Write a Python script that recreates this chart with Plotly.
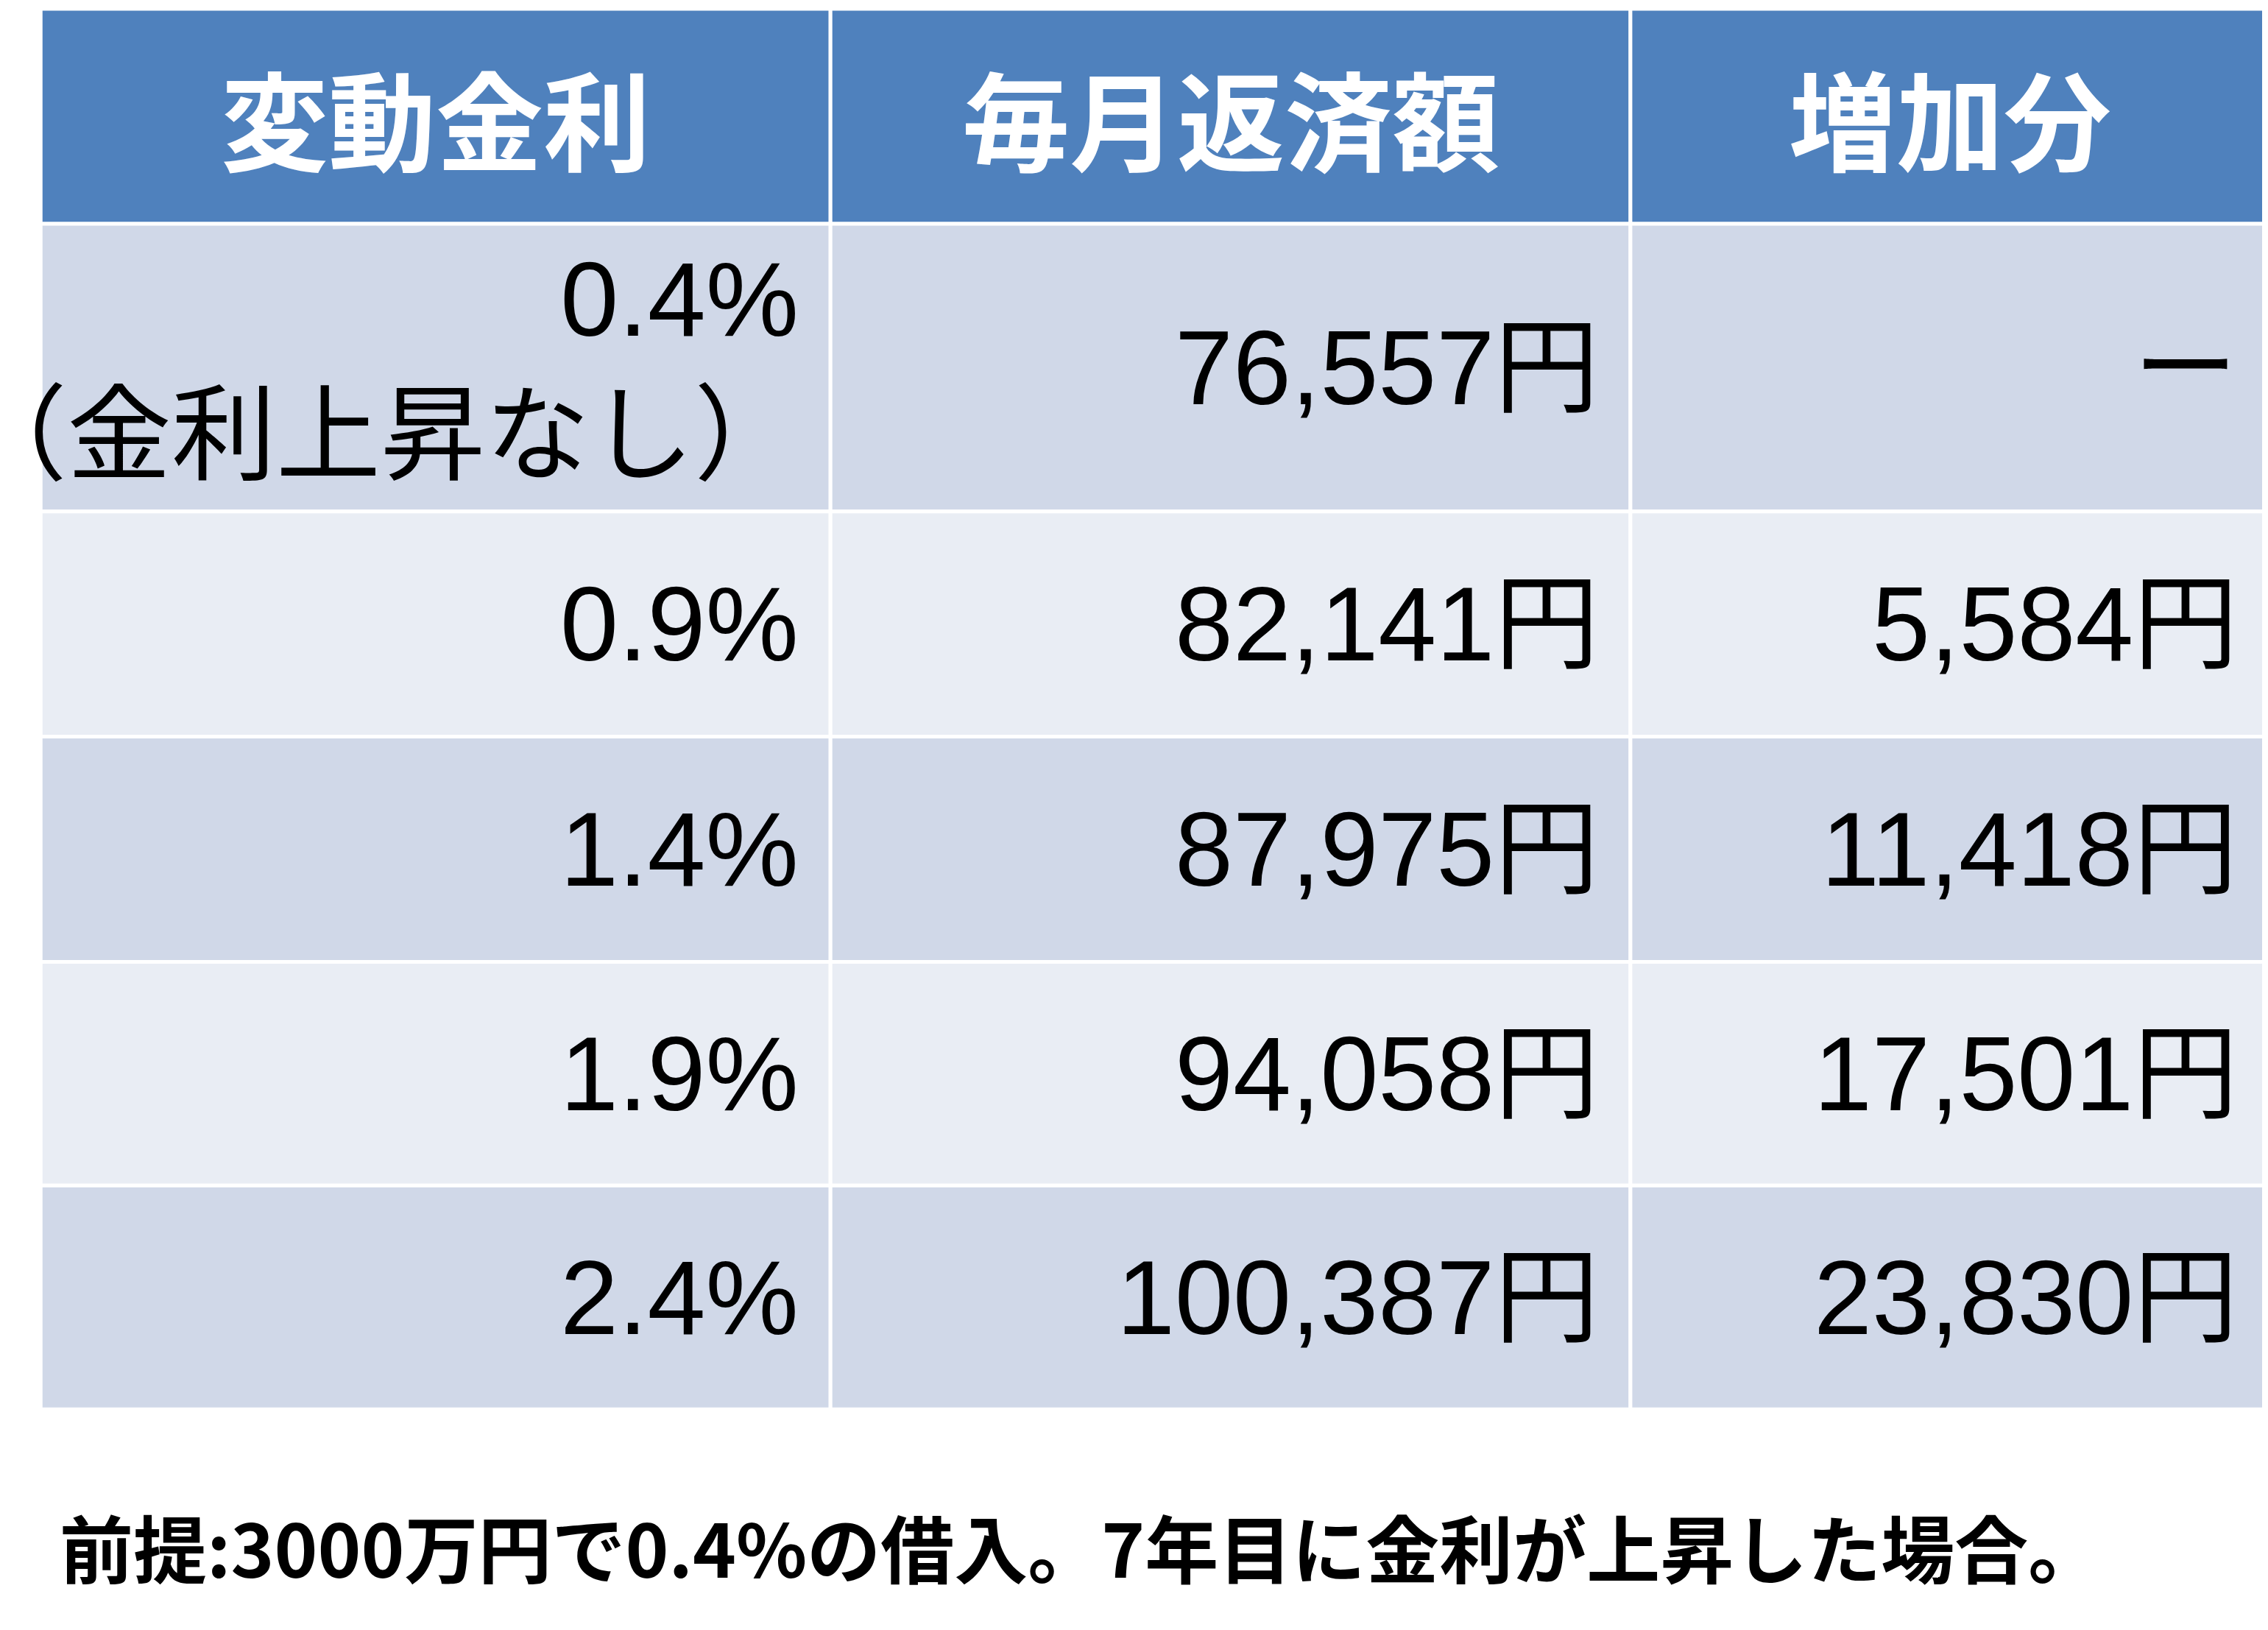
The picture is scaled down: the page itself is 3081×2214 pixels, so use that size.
import plotly.graph_objects as go

headers = ["変動金利", "毎月返済額", "増加分"]
rates = ["0.4%<br>（金利上昇なし）", "0.9%", "1.4%", "1.9%", "2.4%"]
payments = ["76,557円", "82,141円", "87,975円", "94,058円", "100,387円"]
increases = ["ー", "5,584円", "11,418円", "17,501円", "23,830円"]
note = "前提:3000万円で0.4%の借入。7年目に金利が上昇した場合。"

W, H = 3081, 2214
RW, RH = 1565, 1122  # reference display units
FONT = "Liberation Sans, Arial, Noto Sans CJK JP"
row_fill = ["#D0D8E8", "#E9EDF4"]

col_edges = [24, 569, 1121, 1562]
row_edges = [2, 150, 348, 503, 658, 812, 966]

def fx(v): return v / RW
def fy(v): return 1 - v / RH

fig = go.Figure()
columns = [rates, payments, increases]
n_rows = len(rates)

for r in range(n_rows + 1):
    y0, y1 = row_edges[r], row_edges[r + 1]
    for c in range(3):
        x0, x1 = col_edges[c], col_edges[c + 1]
        fill = "#4F81BD" if r == 0 else row_fill[(r - 1) % 2]
        fig.add_shape(type="rect", xref="paper", yref="paper",
                      x0=fx(x0), x1=fx(x1), y0=fy(y1), y1=fy(y0),
                      fillcolor=fill, line=dict(color="white", width=5), layer="below")
        ym = fy((y0 + y1) / 2)
        if r == 0:
            fig.add_annotation(text=f"<b>{headers[c]}</b>", x=fx((x0 + x1) / 2), y=ym,
                               xref="paper", yref="paper", xanchor="center", yanchor="middle",
                               showarrow=False,
                               font=dict(family="Noto Sans CJK JP", size=146, color="white"))
        else:
            fig.add_annotation(text=columns[c][r - 1], x=fx(x1 - 21), y=ym,
                               xref="paper", yref="paper", xanchor="right", yanchor="middle",
                               align="right", showarrow=False,
                               font=dict(family=FONT, size=142, color="black"))

fig.add_annotation(
    text=f"<b>{note}</b>", x=fx(36), y=fy(1060), xref="paper", yref="paper",
    xanchor="left", yanchor="middle", showarrow=False,
    font=dict(family="Noto Sans CJK JP", size=100, color="black"),
)
fig.update_layout(width=W, height=H, margin=dict(l=0, r=0, t=0, b=0),
                  paper_bgcolor="white", plot_bgcolor="white",
                  xaxis=dict(visible=False), yaxis=dict(visible=False))
fig.write_html("out.html")
